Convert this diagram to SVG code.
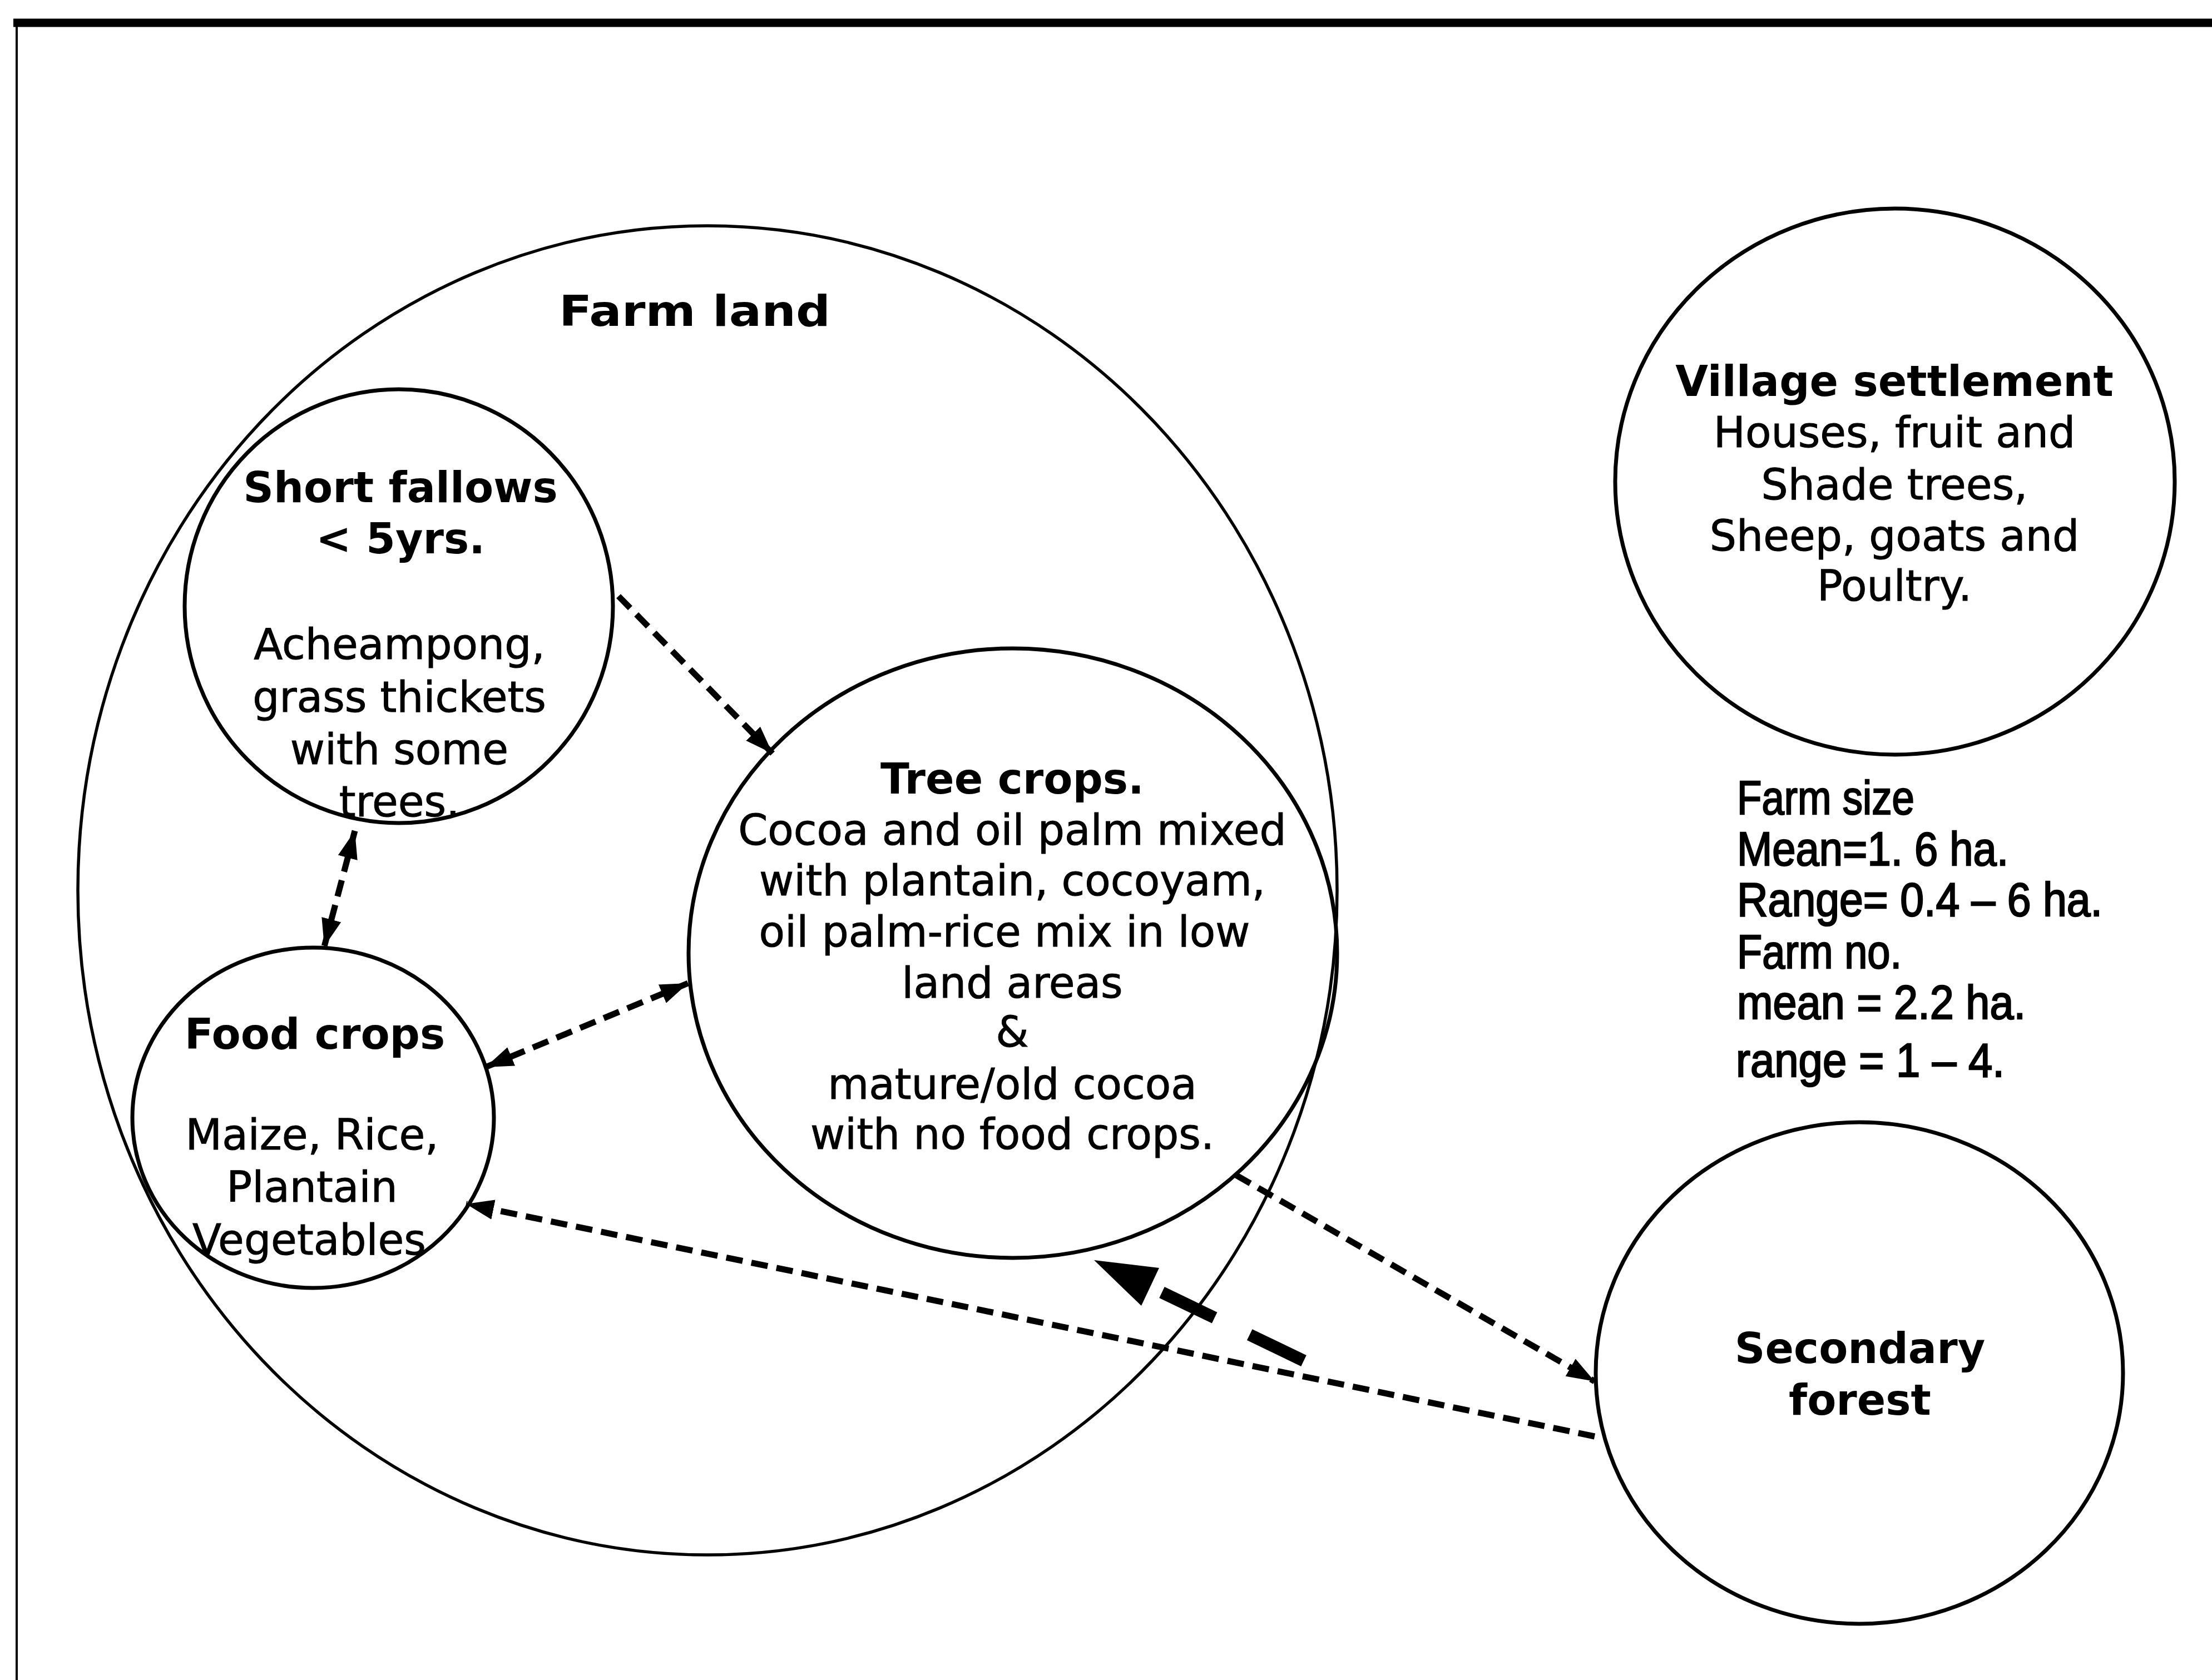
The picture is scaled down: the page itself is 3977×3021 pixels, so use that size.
<svg xmlns="http://www.w3.org/2000/svg" width="3977" height="3021" viewBox="0 0 3977 3021">
  <style>
    .zone { fill: none; stroke: #000; stroke-width: 7; }
    .outer { fill: none; stroke: #000; stroke-width: 5.5; }
    .t { font-family: "DejaVu Sans", Verdana, sans-serif; font-size: 76px; fill: #000; text-anchor: middle; stroke: #000; stroke-width: 1; }
    .b { font-weight: bold; stroke-width: 0; }
    .stat { font-family: "Liberation Sans", Arial, sans-serif; font-size: 86px; fill: #000; stroke: #000; stroke-width: 2.5; }
    .flow { fill: none; stroke: #000; stroke-width: 11; stroke-dasharray: 30 16; }
  </style>
  <defs>
    <marker id="head" markerUnits="userSpaceOnUse" markerWidth="52" markerHeight="38" refX="50" refY="18" orient="auto-start-reverse">
      <path d="M0,0 L50,18 L0,36 z" fill="#000"/>
    </marker>
  </defs>

  <rect width="3977" height="3021" fill="#fff"/>

  <!-- page frame: heavy top rule, thin left rule -->
  <g id="frame">
    <line x1="24" y1="41" x2="3977" y2="41" stroke="#000" stroke-width="15"/>
    <line x1="30" y1="40" x2="30" y2="3021" stroke="#000" stroke-width="4"/>
  </g>

  <g id="farm-land">
    <ellipse class="outer" cx="1272" cy="1601" rx="1132" ry="1195"/>
    <text class="t b" x="1249" y="586" font-size="92" textLength="488" lengthAdjust="spacingAndGlyphs">Farm land</text>
  </g>

  <g id="short-fallows">
    <ellipse class="zone" cx="717" cy="1090" rx="385" ry="390"/>
    <text class="t b" x="720" y="903">Short fallows</text>
    <text class="t b" x="720" y="995">&lt; 5yrs.</text>
    <text class="t" x="718" y="1185">Acheampong,</text>
    <text class="t" x="718" y="1280">grass thickets</text>
    <text class="t" x="718" y="1374">with some</text>
    <text class="t" x="718" y="1468">trees.</text>
  </g>

  <g id="food-crops">
    <ellipse class="zone" cx="563" cy="2010" rx="325" ry="306"/>
    <text class="t b" x="566" y="1886">Food crops</text>
    <text class="t" x="561" y="2067">Maize, Rice,</text>
    <text class="t" x="561" y="2161">Plantain</text>
    <text class="t" x="556" y="2256">Vegetables</text>
  </g>

  <g id="tree-crops">
    <ellipse class="zone" cx="1821" cy="1714" rx="583" ry="548"/>
    <text class="t b" x="1820" y="1427">Tree crops.</text>
    <text class="t" x="1820" y="1519">Cocoa and oil palm mixed</text>
    <text class="t" x="1820" y="1610">with plantain, cocoyam,</text>
    <text class="t" x="1806" y="1702">oil palm-rice mix in low</text>
    <text class="t" x="1820" y="1794">land areas</text>
    <text class="t" x="1820" y="1882">&amp;</text>
    <text class="t" x="1820" y="1976">mature/old cocoa</text>
    <text class="t" x="1820" y="2066">with no food crops.</text>
  </g>

  <g id="village-settlement">
    <ellipse class="zone" cx="3407" cy="866" rx="503" ry="491"/>
    <text class="t b" x="3406" y="712">Village settlement</text>
    <text class="t" x="3406" y="804">Houses, fruit and</text>
    <text class="t" x="3406" y="898">Shade trees,</text>
    <text class="t" x="3406" y="990">Sheep, goats and</text>
    <text class="t" x="3406" y="1080">Poultry.</text>
  </g>

  <g id="secondary-forest">
    <ellipse class="zone" cx="3343" cy="2469" rx="474" ry="451"/>
    <text class="t b" x="3344" y="2451">Secondary</text>
    <text class="t b" x="3344" y="2544">forest</text>
  </g>

  <g id="farm-stats">
    <text class="stat" x="3123" y="1464" textLength="319" lengthAdjust="spacingAndGlyphs">Farm size</text>
    <text class="stat" x="3123" y="1556" textLength="488" lengthAdjust="spacingAndGlyphs">Mean=1. 6 ha.</text>
    <text class="stat" x="3123" y="1647" textLength="657" lengthAdjust="spacingAndGlyphs">Range= 0.4 – 6 ha.</text>
    <text class="stat" x="3123" y="1741" textLength="296" lengthAdjust="spacingAndGlyphs">Farm no.</text>
    <text class="stat" x="3123" y="1832" textLength="519" lengthAdjust="spacingAndGlyphs">mean = 2.2 ha.</text>
    <text class="stat" x="3121" y="1936" textLength="483" lengthAdjust="spacingAndGlyphs">range = 1 – 4.</text>
  </g>

  <g id="connectors">
    <!-- short fallows to tree crops -->
    <line class="flow" x1="1112" y1="1072" x2="1389" y2="1355" marker-end="url(#head)"/>
    <!-- short fallows and food crops -->
    <line class="flow" x1="638" y1="1494" x2="583" y2="1702" marker-start="url(#head)" marker-end="url(#head)"/>
    <!-- food crops and tree crops -->
    <line class="flow" x1="873" y1="1919" x2="1237" y2="1768" marker-start="url(#head)" marker-end="url(#head)"/>
    <!-- secondary forest to food crops -->
    <line class="flow" x1="2867" y1="2583" x2="838" y2="2165" marker-end="url(#head)"/>
    <!-- tree crops to secondary forest -->
    <line class="flow" x1="2222" y1="2113" x2="2867" y2="2484" marker-end="url(#head)"/>
    <!-- heavy dashed return toward tree crops -->
    <g id="heavy-arrow">
      <line x1="2344" y1="2447" x2="2089" y2="2324" stroke="#000" stroke-width="22" stroke-dasharray="108 70"/>
      <polygon points="1967,2266 2084,2280 2052,2348" fill="#000"/>
    </g>
  </g>
</svg>
